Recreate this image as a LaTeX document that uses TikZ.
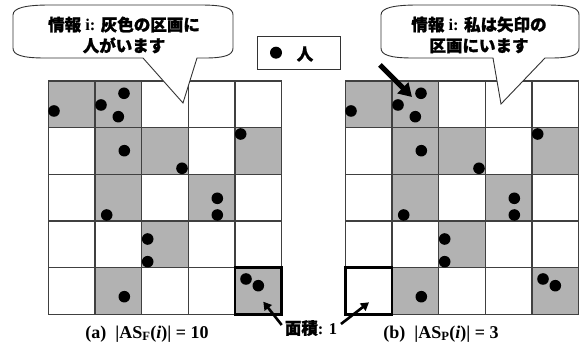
\documentclass[tikz,border=0pt]{standalone}
\usepackage{fontspec}
\setmainfont{Liberation Serif}
\newfontfamily\jp{Noto Sans CJK JP}[BoldFeatures={FakeBold=1.2}]
\usetikzlibrary{arrows.meta}
\tikzset{
  cellgray/.style={fill=black!30},
  gridline/.style={draw=black!75, line width=1.1pt},
  boldcell/.style={draw=black, line width=2.4pt},
  dot/.style={fill=black},
  bubble/.style={draw=black!80, line width=0.9pt, fill=white},
  bubtext/.style={align=center, font=\fontsize{16.5}{21}\selectfont\bfseries},
  caption/.style={font=\fontsize{18}{20}\selectfont\bfseries},
  bigarrow/.style={line width=5pt, -{Triangle[width=15pt,length=13pt]}},
  smallarrow/.style={line width=2.6pt, -{Triangle[width=9pt,length=8pt]}},
}
\newcommand{\drawmygrid}[1]{%
  \begin{scope}[shift={#1}]
    \foreach \c/\r in {0/0,1/0,1/1,2/1,4/1,1/2,3/2,2/3,1/4,4/4}
      \fill[cellgray] (\c*46.67,\r*46.67) rectangle ++(46.67,46.67);
    \foreach \i in {0,...,5} {
      \draw[gridline] (\i*46.67,0) -- (\i*46.67,233.35);
      \draw[gridline] (0,\i*46.67) -- (233.35,\i*46.67);
    }
    \foreach \x/\y in {5.7/30, 75.7/12.3, 52.7/24, 70/35.7, 76/69.7, 133.7/87.3,
      192.4/53, 58.4/134, 169/117.3, 169/134, 99.4/158, 99.4/180.7, 76/215.7,
      197.7/198, 210/204.7}
      \fill[dot] (\x,\y) circle[radius=5.8pt];
  \end{scope}}
\begin{document}
\begin{tikzpicture}[x=1pt,y=-1pt]
\useasboundingbox (0,0) rectangle (582,347);
\fill[white] (0,0) rectangle (582,347);
% grids
\drawmygrid{(48.3,81)}
\drawmygrid{(345.3,81)}
\draw[boldcell] (48.3+4*46.67,81+4*46.67) rectangle ++(46.67,46.67);
\draw[boldcell] (345.3,81+4*46.67) rectangle ++(46.67,46.67);
% left bubble
\draw[bubble] (13,15) .. controls (13,8) and (25,5) .. (50,5) -- (200,5)
  .. controls (225,5) and (233,8) .. (233,15) -- (233,48)
  .. controls (233,55) and (225,58) .. (205,58) -- (197,58) -- (183,103)
  -- (143,58) -- (45,58) .. controls (22,58) and (13,55) .. (13,48) -- cycle;
\node[bubtext] (infoa) at (124,35) {{\jp 情報} i: {\jp 灰色の区画に}\\{\jp 人がいます}};
% right bubble
\draw[bubble] (381,15) .. controls (381,8) and (393,5) .. (418,5) -- (546,5)
  .. controls (571,5) and (579,8) .. (579,15) -- (579,48)
  .. controls (579,55) and (571,58) .. (551,58) -- (545,58) -- (501,104)
  -- (493,58) -- (413,58) .. controls (390,58) and (381,55) .. (381,48) -- cycle;
\node[bubtext] (infob) at (479,35) {{\jp 情報} i: {\jp 私は矢印の}\\{\jp 区画にいます}};
% legend
\node[draw=black!80, line width=0.9pt, minimum width=82.6pt, minimum height=33.3pt, inner sep=0pt] (legend) at (299,52.7) {};
\fill[dot] (276,52.7) circle[radius=6pt];
\node[font=\fontsize{16.5}{20}\selectfont\bfseries] (person) at (305,54) {\jp 人};
% big arrow
\coordinate (ba1) at (380,65);
\coordinate (ba2) at (412,97);
\draw[bigarrow] (ba1) -- (ba2);
% area label
\node[font=\fontsize{16.5}{20}\selectfont\bfseries] (area) at (311,328) {{\jp 面積}: 1};
\coordinate (la1) at (281.7,325);
\coordinate (la2) at (263.3,301.7);
\coordinate (ra1) at (341,324);
\coordinate (ra2) at (369,302.3);
\draw[smallarrow] (la1) -- (la2);
\draw[smallarrow] (ra1) -- (ra2);
% captions
\node[caption] (capa) at (147,334) {(a)~~|AS\textsubscript{F}(\textit{i})| = 10};
\node[caption] (capb) at (441,334) {(b)~~|AS\textsubscript{P}(\textit{i})| = 3};
\end{tikzpicture}
\end{document}
